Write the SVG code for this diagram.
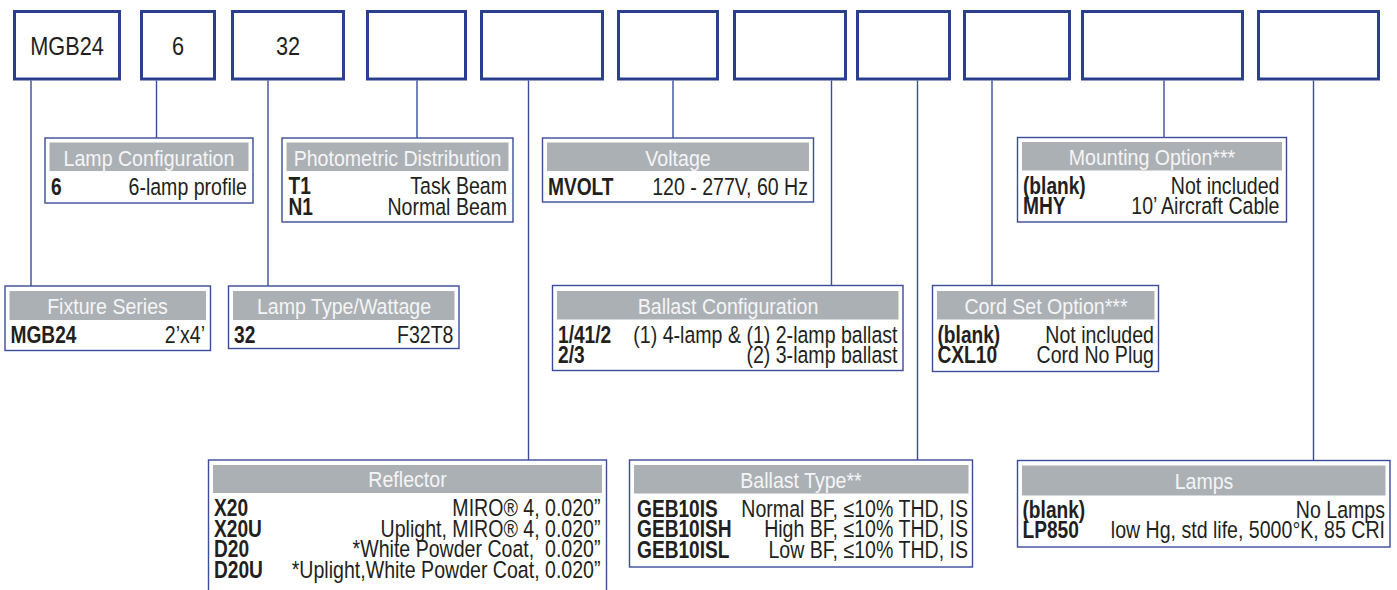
<svg xmlns="http://www.w3.org/2000/svg" width="1397" height="590" viewBox="0 0 1397 590">
<style>
.top{fill:#fff;stroke:#2b3f8f;stroke-width:3}
.box{fill:#fff;stroke:#3a4c9a;stroke-width:1.4}
.hd{fill:#abb0b5}
.ln{stroke:#3a4c9a;stroke-width:1.4;fill:none}
text{font-family:"Liberation Sans",Arial,sans-serif;fill:#231f20}
.tt{font-size:26.5px;text-anchor:middle}
.h{font-size:22px;fill:#f5f5f5;text-anchor:middle}
.c{font-size:23.5px;font-weight:bold}
.d{font-size:23.5px;text-anchor:end}
</style>
<g id="connectors">
<line class="ln" x1="31" y1="80.5" x2="31" y2="286"/>
<line class="ln" x1="156.5" y1="80.5" x2="156.5" y2="138"/>
<line class="ln" x1="268" y1="80.5" x2="268" y2="286"/>
<line class="ln" x1="417" y1="80.5" x2="417" y2="138"/>
<line class="ln" x1="528.5" y1="80.5" x2="528.5" y2="460"/>
<line class="ln" x1="673" y1="80.5" x2="673" y2="138"/>
<line class="ln" x1="831.5" y1="80.5" x2="831.5" y2="285.5"/>
<line class="ln" x1="917.5" y1="80.5" x2="917.5" y2="460"/>
<line class="ln" x1="992" y1="80.5" x2="992" y2="285.5"/>
<line class="ln" x1="1164" y1="80.5" x2="1164" y2="137.5"/>
<line class="ln" x1="1313.5" y1="80.5" x2="1313.5" y2="460.5"/>
</g>
<g id="code-boxes">
<g id="code1"><rect class="top" x="14.5" y="11.5" width="105" height="67.5"/><text class="tt" transform="translate(67 55) scale(0.82 1)">MGB24</text></g>
<g id="code2"><rect class="top" x="141.5" y="11.5" width="73" height="67.5"/><text class="tt" transform="translate(178 55) scale(0.82 1)">6</text></g>
<g id="code3"><rect class="top" x="232.5" y="11.5" width="111" height="67.5"/><text class="tt" transform="translate(288 55) scale(0.82 1)">32</text></g>
<g id="code4"><rect class="top" x="367.5" y="11.5" width="98" height="67.5"/></g>
<g id="code5"><rect class="top" x="481.5" y="11.5" width="121" height="67.5"/></g>
<g id="code6"><rect class="top" x="618.5" y="11.5" width="99" height="67.5"/></g>
<g id="code7"><rect class="top" x="734.5" y="11.5" width="111" height="67.5"/></g>
<g id="code8"><rect class="top" x="857.5" y="11.5" width="92" height="67.5"/></g>
<g id="code9"><rect class="top" x="964.5" y="11.5" width="105" height="67.5"/></g>
<g id="code10"><rect class="top" x="1082.5" y="11.5" width="160" height="67.5"/></g>
<g id="code11"><rect class="top" x="1258.5" y="11.5" width="120" height="67.5"/></g>
</g>
<g id="lamp-configuration">
<rect class="box" x="45" y="138" width="208" height="65"/>
<rect class="hd" x="49.5" y="142.5" width="199" height="28.5"/>
<text class="h" transform="translate(149 165.5) scale(0.89 1)">Lamp Configuration</text>
<text class="c" transform="translate(51 195) scale(0.815 1)">6</text>
<text class="d" transform="translate(247 195) scale(0.833 1)">6-lamp profile</text>
</g>
<g id="photometric-distribution">
<rect class="box" x="282" y="138" width="231" height="84"/>
<rect class="hd" x="286.5" y="142.5" width="222" height="28.5"/>
<text class="h" transform="translate(397.5 165.5) scale(0.89 1)">Photometric Distribution</text>
<text class="c" transform="translate(288.5 194) scale(0.815 1)">T1</text>
<text class="d" transform="translate(507 194) scale(0.833 1)">Task Beam</text>
<text class="c" transform="translate(288.5 214.5) scale(0.815 1)">N1</text>
<text class="d" transform="translate(507 214.5) scale(0.833 1)">Normal Beam</text>
</g>
<g id="voltage">
<rect class="box" x="542.5" y="138" width="271" height="64"/>
<rect class="hd" x="547" y="142.5" width="262" height="28.5"/>
<text class="h" transform="translate(678 165.5) scale(0.89 1)">Voltage</text>
<text class="c" transform="translate(548 194.5) scale(0.815 1)">MVOLT</text>
<text class="d" transform="translate(808 194.5) scale(0.833 1)">120 - 277V, 60 Hz</text>
</g>
<g id="mounting-option">
<rect class="box" x="1017.5" y="137.5" width="269" height="84.5"/>
<rect class="hd" x="1022" y="142" width="260" height="28.5"/>
<text class="h" transform="translate(1152 164.5) scale(0.89 1)">Mounting Option***</text>
<text class="c" transform="translate(1023 193.5) scale(0.815 1)">(blank)</text>
<text class="d" transform="translate(1279.5 193.5) scale(0.833 1)">Not included</text>
<text class="c" transform="translate(1023 214) scale(0.815 1)">MHY</text>
<text class="d" transform="translate(1279.5 214) scale(0.833 1)">10’ Aircraft Cable</text>
</g>
<g id="fixture-series">
<rect class="box" x="5" y="286" width="205.5" height="64.5"/>
<rect class="hd" x="9.5" y="291" width="196.5" height="29"/>
<text class="h" transform="translate(107.5 313.5) scale(0.89 1)">Fixture Series</text>
<text class="c" transform="translate(10.5 343) scale(0.815 1)">MGB24</text>
<text class="d" transform="translate(205 343) scale(0.833 1)">2’x4’</text>
</g>
<g id="lamp-type-wattage">
<rect class="box" x="228.5" y="286" width="230.5" height="62.5"/>
<rect class="hd" x="233" y="291" width="221.5" height="29"/>
<text class="h" transform="translate(344 313.5) scale(0.89 1)">Lamp Type/Wattage</text>
<text class="c" transform="translate(234 342.5) scale(0.815 1)">32</text>
<text class="d" transform="translate(453.5 342.5) scale(0.833 1)">F32T8</text>
</g>
<g id="ballast-configuration">
<rect class="box" x="552.5" y="285.5" width="350.5" height="85"/>
<rect class="hd" x="557" y="291" width="341.5" height="28.5"/>
<text class="h" transform="translate(728 313.5) scale(0.89 1)">Ballast Configuration</text>
<text class="c" transform="translate(558 342.5) scale(0.815 1)">1/41/2</text>
<text class="d" transform="translate(897.5 342.5) scale(0.833 1)">(1) 4-lamp &amp; (1) 2-lamp ballast</text>
<text class="c" transform="translate(558 363) scale(0.815 1)">2/3</text>
<text class="d" transform="translate(897.5 363) scale(0.833 1)">(2) 3-lamp ballast</text>
</g>
<g id="cord-set-option">
<rect class="box" x="932.5" y="285.5" width="226" height="86"/>
<rect class="hd" x="937" y="291" width="217.5" height="28.5"/>
<text class="h" transform="translate(1046 313.5) scale(0.89 1)">Cord Set Option***</text>
<text class="c" transform="translate(937.5 342.5) scale(0.815 1)">(blank)</text>
<text class="d" transform="translate(1154 342.5) scale(0.833 1)">Not included</text>
<text class="c" transform="translate(937.5 363) scale(0.815 1)">CXL10</text>
<text class="d" transform="translate(1154 363) scale(0.833 1)">Cord No Plug</text>
</g>
<g id="reflector">
<rect class="box" x="208.5" y="460" width="398" height="135"/>
<rect class="hd" x="213" y="465" width="389" height="28"/>
<text class="h" transform="translate(407.5 487) scale(0.89 1)">Reflector</text>
<text class="c" transform="translate(214 516) scale(0.815 1)">X20</text>
<text class="d" transform="translate(600.5 516) scale(0.833 1)">MIRO® 4, 0.020”</text>
<text class="c" transform="translate(214 536.5) scale(0.815 1)">X20U</text>
<text class="d" transform="translate(600.5 536.5) scale(0.833 1)">Uplight, MIRO® 4, 0.020”</text>
<text class="c" transform="translate(214 557) scale(0.815 1)">D20</text>
<text class="d" xml:space="preserve" transform="translate(600.5 557) scale(0.833 1)">*White Powder Coat,  0.020”</text>
<text class="c" transform="translate(214 577.5) scale(0.815 1)">D20U</text>
<text class="d" transform="translate(600.5 577.5) scale(0.833 1)">*Uplight,White Powder Coat, 0.020”</text>
</g>
<g id="ballast-type">
<rect class="box" x="629.5" y="460" width="343" height="107"/>
<rect class="hd" x="634" y="465" width="334.5" height="28.5"/>
<text class="h" transform="translate(801 487.5) scale(0.89 1)">Ballast Type**</text>
<text class="c" transform="translate(637 516.5) scale(0.815 1)">GEB10IS</text>
<text class="d" transform="translate(968 516.5) scale(0.833 1)">Normal BF, ≤10% THD, IS</text>
<text class="c" transform="translate(637 537) scale(0.815 1)">GEB10ISH</text>
<text class="d" transform="translate(968 537) scale(0.833 1)">High BF, ≤10% THD, IS</text>
<text class="c" transform="translate(637 557.5) scale(0.815 1)">GEB10ISL</text>
<text class="d" transform="translate(968 557.5) scale(0.833 1)">Low BF, ≤10% THD, IS</text>
</g>
<g id="lamps">
<rect class="box" x="1017.5" y="460.5" width="372.5" height="86.5"/>
<rect class="hd" x="1022" y="465.5" width="363.5" height="30"/>
<text class="h" transform="translate(1204 489) scale(0.89 1)">Lamps</text>
<text class="c" transform="translate(1022.5 517.5) scale(0.815 1)">(blank)</text>
<text class="d" transform="translate(1385 517.5) scale(0.833 1)">No Lamps</text>
<text class="c" transform="translate(1022.5 538) scale(0.815 1)">LP850</text>
<text class="d" transform="translate(1385 538) scale(0.833 1)">low Hg, std life, 5000°K, 85 CRI</text>
</g>
</svg>
